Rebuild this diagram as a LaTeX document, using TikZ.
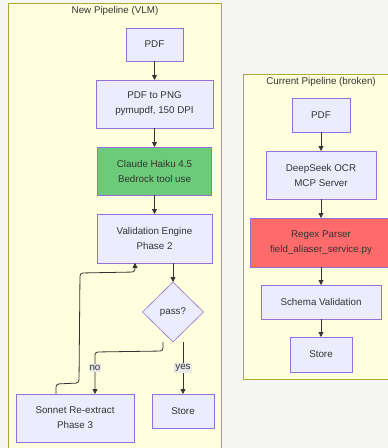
\documentclass[tikz,border=0pt]{standalone}
\usepackage{fontspec}
\setmainfont{Liberation Sans}
\usetikzlibrary{arrows.meta,shapes.geometric}
\definecolor{bgc}{HTML}{F5F5F3}
\definecolor{clfill}{HTML}{FFFFDE}
\definecolor{cldraw}{HTML}{AAAA33}
\definecolor{boxfill}{HTML}{ECECFF}
\definecolor{boxdraw}{HTML}{9370DB}
\definecolor{txt}{HTML}{333333}
\definecolor{greenfill}{HTML}{6CCB78}
\definecolor{redfill}{HTML}{FF6B6B}
\definecolor{lblfill}{HTML}{E8E8E8}
\tikzset{
  cluster/.style={fill=clfill,draw=cldraw,line width=0.8pt},
  box/.style={draw=boxdraw,fill=boxfill,line width=0.8pt,text=txt},
  lbl/.style={text=txt,font=\fontsize{9.8}{15}\selectfont,align=center},
  edge/.style={draw=txt,line width=0.8pt,-{Triangle[length=5pt,width=5pt]}},
  elbl/.style={fill=lblfill,text=txt,font=\fontsize{9.8}{12}\selectfont,inner sep=1pt}
}
\begin{document}
\begin{tikzpicture}[x=1pt,y=-1pt]
\useasboundingbox (0,0) rectangle (388,448);
\fill[bgc] (0,0) rectangle (388,448);
% clusters
\draw[cluster] (8.5,3.5) rectangle (221.5,452);
\node[lbl] (t1) at (115,11) {New Pipeline (VLM)};
\draw[cluster] (243,74) rectangle (392,379);
\node[lbl] (t2) at (321,82) {Current Pipeline (broken)};
% left boxes
\draw[box] (126,28) rectangle (183,61);
\node[lbl] (pdf1) at (154.5,44.5) {PDF};
\draw[box] (96,80) rectangle (213,128);
\node[lbl] (png) at (154.5,104) {PDF to PNG\\pymupdf, 150 DPI};
\draw[box,fill=greenfill] (97,147) rectangle (211,195);
\node[lbl] (haiku) at (154.5,171) {Claude Haiku 4.5\\Bedrock tool use};
\draw[box] (97,214) rectangle (212,263);
\node[lbl] (val) at (154.5,238.5) {Validation Engine\\Phase 2};
\draw[box,line width=0.6pt] (173,282) -- (203.5,312) -- (173,342) -- (142.5,312) -- cycle;
\node[lbl] (pass) at (173,312) {pass?};
\draw[box] (16,394) rectangle (134,442);
\node[lbl] (son) at (75,418) {Sonnet Re-extract\\Phase 3};
\draw[box] (152,394) rectangle (214,428);
\node[lbl] (st1) at (183,411) {Store};
% left edges
\coordinate (a1) at (154.5,61); \coordinate (a2) at (154.5,80);
\coordinate (b1) at (154.5,128); \coordinate (b2) at (154.5,147);
\coordinate (c1) at (154.5,195); \coordinate (c2) at (154.5,214);
\coordinate (d1) at (173,263); \coordinate (d2) at (173,282);
\draw[edge] (a1) -- (a2);
\draw[edge] (b1) -- (b2);
\draw[edge] (c1) -- (c2);
\draw[edge] (d1) -- (d2);
\coordinate (y1) at (183,342); \coordinate (y2) at (183,394);
\draw[edge] (y1) -- (y2);
\node[elbl] (yes) at (183,368) {yes};
\coordinate (n1) at (163,342); \coordinate (n2) at (95,394);
\draw[edge,rounded corners=3pt] (n1) -- (163,351) -- (95,352) -- (n2);
\node[elbl] (no) at (95,368) {no};
\coordinate (r1) at (56,394); \coordinate (r2) at (135,263);
\draw[edge,rounded corners=3pt] (r1) -- (56,384) -- (79,383) -- (80,273) -- (135,272) -- (r2);
% right boxes
\draw[box] (292,98) rectangle (350,132);
\node[lbl] (pdf2) at (321,115) {PDF};
\draw[box] (266,151) rectangle (376,199);
\node[lbl] (ds) at (321,175) {DeepSeek OCR\\MCP Server};
\draw[box,fill=redfill] (250,218) rectangle (392,267);
\node[lbl] (rx) at (321,242.5) {Regex Parser\\field\_aliaser\_service.py};
\draw[box] (261,285) rectangle (381,319);
\node[lbl] (sv) at (321,302) {Schema Validation};
\draw[box] (290,337) rectangle (352,372);
\node[lbl] (st2) at (321,354.5) {Store};
\coordinate (e1) at (321,132); \coordinate (e2) at (321,151);
\coordinate (f1) at (321,199); \coordinate (f2) at (321,218);
\coordinate (g1) at (321,267); \coordinate (g2) at (321,285);
\coordinate (h1) at (321,319); \coordinate (h2) at (321,337);
\draw[edge] (e1) -- (e2);
\draw[edge] (f1) -- (f2);
\draw[edge] (g1) -- (g2);
\draw[edge] (h1) -- (h2);
\end{tikzpicture}
\end{document}
